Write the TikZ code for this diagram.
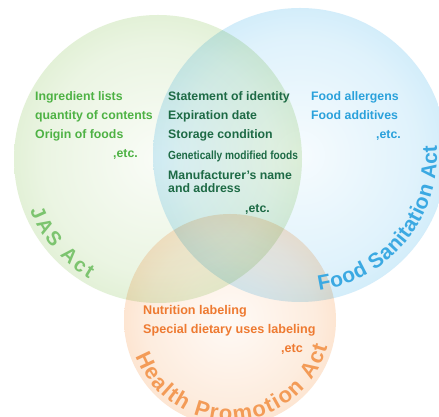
\documentclass[tikz,border=0pt]{standalone}
\usepackage{fontspec}
\setmainfont{Liberation Sans}
\usetikzlibrary{calc,decorations.text}

\definecolor{jasedge}{HTML}{A2D07C}
\definecolor{fsaedge}{HTML}{6EC4EF}
\definecolor{hpaedge}{HTML}{F7AA6A}
\definecolor{jastext}{HTML}{4EB244}
\definecolor{commontext}{HTML}{1D6A45}
\definecolor{fsatext}{HTML}{2AA1DB}
\definecolor{hpatext}{HTML}{EE7A31}
\definecolor{jaslabel}{HTML}{7CC46F}
\definecolor{fsalabel}{HTML}{3BA9E2}
\definecolor{hpalabel}{HTML}{F39B57}

\pgfdeclareradialshading{jasball}{\pgfpointorigin}{color(0bp)=(jasedge!6);
  color(20bp)=(jasedge!22); color(40bp)=(jasedge!55); color(47bp)=(jasedge!85);
  color(50bp)=(jasedge)}
\pgfdeclareradialshading{fsaball}{\pgfpointorigin}{color(0bp)=(fsaedge!6);
  color(20bp)=(fsaedge!22); color(40bp)=(fsaedge!55); color(47bp)=(fsaedge!85);
  color(50bp)=(fsaedge)}
\pgfdeclareradialshading{hpaball}{\pgfpointorigin}{color(0bp)=(hpaedge!6);
  color(20bp)=(hpaedge!22); color(40bp)=(hpaedge!55); color(47bp)=(hpaedge!85);
  color(50bp)=(hpaedge)}

\begin{document}
\begin{tikzpicture}[
    x=1pt, y=1pt,
    item/.style={font=\fontsize{12.3}{14}\selectfont\bfseries,
                 anchor=base west, inner sep=0pt},
    etcitem/.style={item, anchor=base east},
    ball/.style={blend mode=multiply},
]
\useasboundingbox (0,0) rectangle (439,417);
\fill[white] (0,0) rectangle (439,417);

% --- circle centres ---
\coordinate (jas) at (158,258);
\coordinate (fsa) at (300,262);
\coordinate (hpa) at (230,97);

% --- the three acts ---
\shade[ball, shading=jasball] (jas) circle (144);
\shade[ball, shading=fsaball] (fsa) circle (147);
\shade[ball, shading=hpaball] (hpa) circle (106);

% --- JAS Act only ---
\node[item, text=jastext] (jasing) at (35,316) {Ingredient lists};
\node[item, text=jastext] (jasqty) at (35,297) {quantity of contents};
\node[item, text=jastext] (jasorig) at (35,278) {Origin of foods};
\node[etcitem, text=jastext] (jasetc) at (138,259) {,etc.};

% --- JAS Act and Food Sanitation Act ---
\node[item, text=commontext] (ident) at (168,316) {Statement of identity};
\node[item, text=commontext] (expiry) at (168,297) {Expiration date};
\node[item, text=commontext] (storage) at (168,278) {Storage condition};
\node[item, text=commontext, font=\fontsize{11.8}{14}\selectfont\bfseries]
  (gmo) at (168,257) {\scalebox{0.86}[1]{Genetically modified foods}};
\node[item, text=commontext] (maker) at (168,237) {Manufacturer’s name};
\node[item, text=commontext] (address) at (168,224) {and address};
\node[etcitem, text=commontext] (commonetc) at (270,204) {,etc.};

% --- Food Sanitation Act only ---
\node[item, text=fsatext] (allergen) at (311,316) {Food allergens};
\node[item, text=fsatext] (additive) at (311,297) {Food additives};
\node[etcitem, text=fsatext] (fsaetc) at (401,278) {,etc.};

% --- Health Promotion Act ---
\node[item, text=hpatext, font=\fontsize{12.6}{14}\selectfont\bfseries]
  (nutrition) at (143,102) {Nutrition labeling};
\node[item, text=hpatext, font=\fontsize{12.6}{14}\selectfont\bfseries]
  (dietary) at (143,83) {Special dietary uses labeling};
\node[etcitem, text=hpatext, font=\fontsize{12.6}{14}\selectfont\bfseries]
  (hpaetc) at (303,64) {,etc};

% --- curved act names ---
\path[decorate, decoration={text along path, text align=fit to path,
  text color=jaslabel, text={|\fontsize{20}{20}\selectfont\bfseries|JAS Act}}]
  ($(jas)+(202:138)$) arc[start angle=202, end angle=240, radius=138];
\path[decorate, decoration={text along path, text align=fit to path,
  text color=fsalabel,
  text={|\fontsize{21}{21}\selectfont\bfseries|Food Sanitation Act}}]
  ($(fsa)+(278:137)$) arc[start angle=278, end angle=364, radius=137];
\path[decorate, decoration={text along path, text align=fit to path,
  text color=hpalabel,
  text={|\fontsize{22}{22}\selectfont\bfseries|Health Promotion Act}}]
  ($(hpa)+(201:101)$) arc[start angle=201, end angle=345, radius=101];

\end{tikzpicture}
\end{document}
